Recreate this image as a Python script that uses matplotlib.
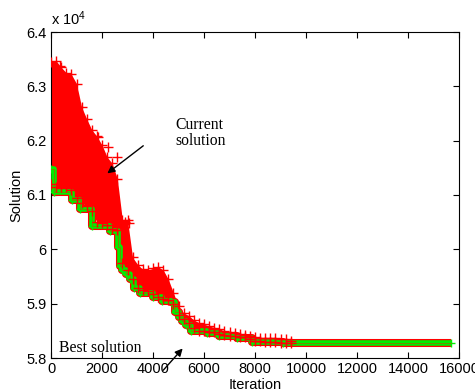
import matplotlib
matplotlib.use("Agg")
import matplotlib.pyplot as plt
from matplotlib.ticker import FuncFormatter

# ---------------- data ----------------
cur_iter = [0, 200, 400, 600, 800, 1000, 1200, 1400, 1600, 1800, 2000, 2200,
            2400, 2600, 2800, 3000, 3200, 3400, 3600, 3800, 4000, 4200, 4400,
            4600, 4800, 5000, 5200, 5400, 5600, 5800, 6000, 6200, 6400, 6600,
            6800, 7000, 7200, 7400, 7600, 7800, 8000, 8200, 8400, 8600, 8800,
            9000, 9200, 9400]
cur_high = [63450, 63470, 63350, 63250, 63220, 63050, 62620, 62400, 62200,
            62080, 61920, 61700, 61580, 61300, 60540, 60540, 59850, 59720,
            59630, 59620, 59650, 59680, 59620, 59450, 59200, 58950, 58830,
            58780, 58700, 58650, 58620, 58590, 58560, 58530, 58500, 58480,
            58460, 58440, 58420, 58400, 58380, 58370, 58370, 58360, 58360,
            58350, 58350, 58320]
cur_low = [61200, 61150, 61150, 61150, 61100, 60950, 60850, 60800, 60700,
           60500, 60480, 60450, 60380, 60350, 59750, 59620, 59450, 59280,
           59250, 59230, 59180, 59120, 59080, 59060, 59000, 58800, 58720,
           58650, 58550, 58500, 58500, 58480, 58470, 58450, 58420, 58400,
           58400, 58390, 58380, 58350, 58320, 58310, 58300, 58300, 58290,
           58280, 58280, 58270]
out_iter = [350, 1850, 2240, 2580, 2900, 3050]
out_val = [63370, 62070, 61880, 61700, 60500, 60480]

best_iter = [0, 120, 830, 1150, 1600, 2300, 2620, 2700, 2800, 2950, 3100,
             3250, 3500, 4000, 4350, 4700, 4850, 5000, 5150, 5300, 5500,
             6100, 6600, 7300, 7900, 9100, 15700]
best_val = [61480, 61050, 60900, 60750, 60430, 60340, 60050, 59700, 59620,
            59550, 59450, 59280, 59200, 59120, 59040, 59030, 58850, 58750,
            58680, 58610, 58500, 58460, 58400, 58370, 58300, 58270, 58270]

x_ticks = [0, 2000, 4000, 6000, 8000, 10000, 12000, 14000, 16000]
y_ticks = [58000, 59000, 60000, 61000, 62000, 63000, 64000]

# ---------------- figure ----------------
plt.rcParams['font.family'] = ['Liberation Sans Narrow', 'Liberation Sans', 'DejaVu Sans']
plt.rcParams['mathtext.default'] = 'regular'

fig = plt.figure(figsize=(4.75, 3.92), dpi=100)
ax = fig.add_axes([51/475, 1-358/392, 408/475, 326/392])

RED = '#ff0000'
GREEN = '#00ee00'

# current solution cloud (fill + band along best)
ax.fill_between(cur_iter, cur_low, cur_high, color=RED, lw=0, zorder=2)
ax.step(best_iter, best_val, where='post', color=RED, lw=5.8, zorder=2,
        solid_capstyle='butt')

# best solution
ax.step(best_iter, best_val, where='post', color=GREEN, lw=4.0, zorder=3,
        solid_capstyle='butt')
ax.plot(best_iter, best_val, '+', color=GREEN, ms=6, mew=1.0, zorder=3)
ax.step(best_iter, best_val, where='post', color='#808000', lw=0.6, zorder=3)

# current-solution markers on top
ax.plot(cur_iter, cur_high, '+', color=RED, ms=6.5, mew=1.0, zorder=4)
ax.plot(cur_iter, cur_low, '+', color=RED, ms=6.5, mew=1.0, zorder=4)
ax.plot(out_iter, out_val, '+', color=RED, ms=6.5, mew=1.0, zorder=4)

ax.set_xlim(0, 16000)
ax.set_ylim(58000, 64000)
ax.set_xticks(x_ticks)
ax.set_yticks(y_ticks)
ax.xaxis.set_major_formatter(FuncFormatter(lambda v, p: f"{v:g}"))
ax.yaxis.set_major_formatter(FuncFormatter(lambda v, p: f"{v/1e4:g}"))
ax.tick_params(direction='in', length=4, width=0.8, top=True, right=True,
               labelsize=10.5, pad=3)
for s in ax.spines.values():
    s.set_linewidth(0.8)

ax.set_xlabel('Iteration', fontsize=10.5, labelpad=1)
ax.set_ylabel('Solution', fontsize=10.5, labelpad=2)
ax.text(0.0, 1.012, 'x 10$^{4}$', transform=ax.transAxes, ha='left',
        va='bottom', fontsize=10.5)

# annotations
serif = ['Liberation Serif', 'DejaVu Serif']
ax.text(4861, 62435, 'Current\nsolution', family=serif, fontsize=11.3,
        ha='left', va='top', linespacing=1.0, zorder=6)
ax.annotate('', xy=(2207, 61398), xytext=(3618, 61906),
            arrowprops=dict(arrowstyle='-|>', color='k', lw=1.0,
                            mutation_scale=11, shrinkA=0, shrinkB=0),
            zorder=6)
ax.text(314, 58107, 'Best solution', family=serif, fontsize=11.3,
        ha='left', va='baseline', zorder=6)
ax.annotate('', xy=(5163, 58175), xytext=(4402, 57775),
            arrowprops=dict(arrowstyle='-|>', color='k', lw=1.0,
                            mutation_scale=11, shrinkA=0, shrinkB=0),
            annotation_clip=False, zorder=6)

fig.savefig('out.png', dpi=100, facecolor='white')
